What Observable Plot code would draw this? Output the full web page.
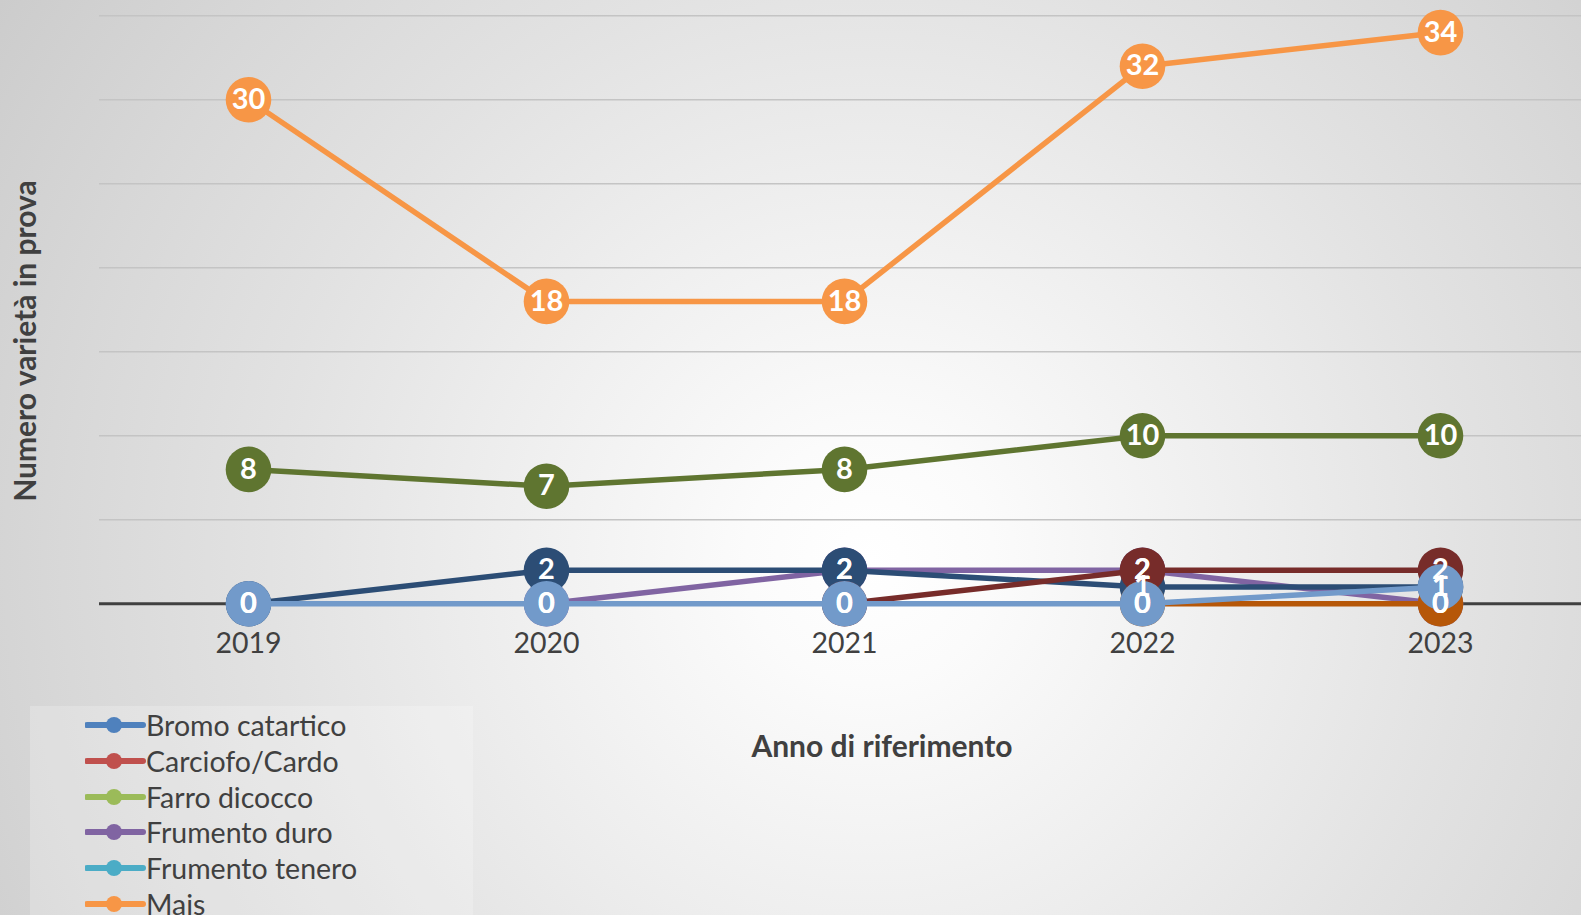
<!DOCTYPE html>
<html>
<head>
<meta charset="utf-8">
<script src="https://cdn.jsdelivr.net/npm/d3@7"></script>
<script src="https://cdn.jsdelivr.net/npm/@observablehq/plot@0.6"></script>
<style>
  html, body { margin: 0; padding: 0; }
  body {
    width: 1581px; height: 915px; overflow: hidden; position: relative;
    font-family: Lato, "Noto Sans", sans-serif;
    background: radial-gradient(circle farthest-corner at 870px 560px, #ffffff 0%, #fbfbfb 12%, #ececec 40%, #e2e2e2 58%, #d8d8d8 78%, #cccccc 100%);
  }
  #chart { position: absolute; left: 0; top: 0; }
  #ytitle {
    position: absolute; left: 24px; top: 341px;
    transform: translate(-50%, -50%) rotate(-90deg);
    white-space: nowrap; font-weight: bold; font-size: 30px; color: #404040;
  }
  #xtitle {
    position: absolute; left: 882px; top: 745px;
    transform: translate(-50%, -50%);
    white-space: nowrap; font-weight: bold; font-size: 30px; color: #404040;
  }
  #legend {
    position: absolute; left: 30px; top: 706px; width: 443px; height: 260px;
    background: rgba(255,255,255,0.22);
  }
  .item { position: absolute; left: 55px; height: 36px; display: flex; align-items: center; }
  .item svg { width: 61px; height: 20px; }
  .item span { font-size: 28.5px; color: #404040; margin-left: 0px; white-space: nowrap; }
</style>
</head>
<body>
<div id="chart"></div>
<div id="ytitle">Numero varietà in prova</div>
<div id="xtitle">Anno di riferimento</div>
<div id="legend"></div>
<script>
// Categories (x axis)
const years = ["2019", "2020", "2021", "2022", "2023"];

// Legend entries visible in the reference (the rest is cut off below the page)
const legendNames = ["Bromo catartico", "Carciofo/Cardo", "Farro dicocco", "Frumento duro", "Frumento tenero", "Mais"];
const legendColors = ["#4F81BD", "#C0504D", "#9BBB59", "#8064A2", "#4BACC6", "#F79646"];

// Series values (null = not visible / no point)
const frumentoDuro = [null, 0, 2, 2, 0];
const mais = [30, 18, 18, 32, 34];
const serieNavy = [0, 2, 2, 1, 1];
const serieDarkRed = [null, null, 0, 2, 2];
const serieGreen = [8, 7, 8, 10, 10];
const serieDarkOrange = [null, null, null, 0, 0];
const serieLightBlue = [0, 0, 0, 0, 1];

// Drawing order (later on top), colours
const seriesNames = ["Frumento duro", "Mais", "Serie 7", "Serie 8", "Serie 9", "Serie 12", "Serie 13"];
const seriesColors = ["#8064A2", "#F79646", "#2C4D75", "#772C2A", "#5F7530", "#B65708", "#729ACA"];
const seriesValues = [frumentoDuro, mais, serieNavy, serieDarkRed, serieGreen, serieDarkOrange, serieLightBlue];

const gridValues = [5, 10, 15, 20, 25, 30, 35];

const rows = seriesNames.flatMap((name, i) =>
  years.map((year, j) => ({ name, year, value: seriesValues[i][j], color: seriesColors[i], order: i }))
    .filter(d => d.value !== null)
);

const marks = [
  Plot.ruleY(gridValues, { stroke: "#c4c4c4", strokeWidth: 1.5 }),
  Plot.ruleY([0], { stroke: "#404040", strokeWidth: 3 })
];
seriesNames.forEach((name, i) => {
  const data = rows.filter(d => d.name === name);
  marks.push(Plot.line(data, { x: "year", y: "value", stroke: seriesColors[i], strokeWidth: 5.5, strokeLinejoin: "round" }));
  marks.push(Plot.dot(data, { x: "year", y: "value", r: 22.8, fill: seriesColors[i], stroke: null }));
});
marks.push(Plot.text(rows, {
  x: "year", y: "value", text: d => String(d.value),
  fill: "white", fontWeight: "bold", fontSize: 29, textAnchor: "middle", lineAnchor: "middle"
}));
marks.push(Plot.text(years, {
  x: d => d, y: () => 0, dy: 40, text: d => d,
  fill: "#404040", fontSize: 28.5, textAnchor: "middle", lineAnchor: "middle"
}));

const chart = Plot.plot({
  width: 1581,
  height: 915,
  marginTop: 0, marginBottom: 0, marginRight: 0, marginLeft: 99,
  x: { type: "point", domain: years, range: [248, 1440], padding: 0, axis: null },
  y: { domain: [0, 35], range: [603.3, 15.3], axis: null },
  style: { background: "transparent", fontFamily: "Lato, 'Noto Sans', sans-serif", overflow: "visible" },
  marks
});
document.getElementById("chart").appendChild(chart);

// Legend
const legend = document.getElementById("legend");
legendNames.forEach((name, i) => {
  const item = document.createElement("div");
  item.className = "item";
  item.style.top = (1 + i * 35.8) + "px";
  item.innerHTML = `<svg viewBox="0 0 61 20"><line x1="2" y1="10" x2="58" y2="10" stroke="${legendColors[i]}" stroke-width="6" stroke-linecap="round"/><circle cx="29" cy="10" r="8" fill="${legendColors[i]}"/></svg><span>${name}</span>`;
  legend.appendChild(item);
});
</script>
</body>
</html>
